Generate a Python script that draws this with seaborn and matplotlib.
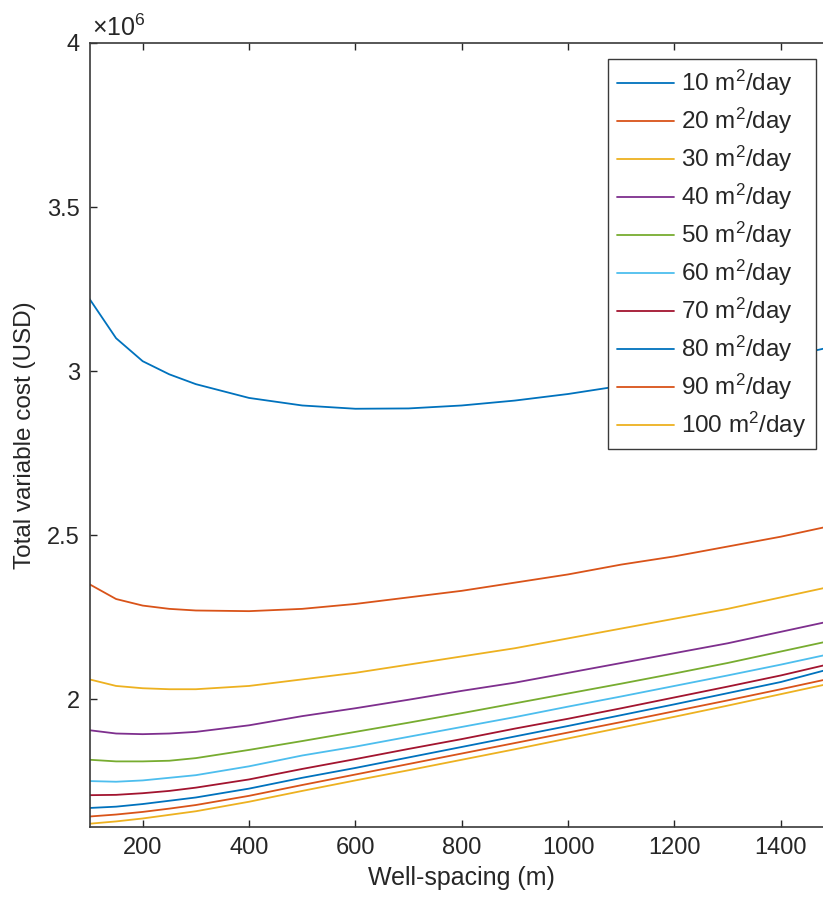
import numpy as np
import pandas as pd
import matplotlib
matplotlib.use("Agg")
import matplotlib.pyplot as plt
import seaborn as sns
from matplotlib.ticker import FuncFormatter

# well spacing (m)
spacing = [100, 150, 200, 250, 300, 400, 500, 600, 700, 800, 900, 1000, 1100, 1200, 1300, 1400, 1500]

# transmissivity labels (m2/day)
trans = [10, 20, 30, 40, 50, 60, 70, 80, 90, 100]

# total variable cost, in millions of USD
cost_10 = [3.22, 3.10, 3.03, 2.99, 2.96, 2.918, 2.895, 2.885, 2.886, 2.895, 2.91, 2.93, 2.955, 2.98, 3.01, 3.04, 3.075]
cost_20 = [2.35, 2.305, 2.285, 2.275, 2.27, 2.268, 2.275, 2.29, 2.31, 2.33, 2.355, 2.38, 2.41, 2.435, 2.465, 2.495, 2.53]
cost_30 = [2.06, 2.04, 2.033, 2.03, 2.03, 2.04, 2.06, 2.08, 2.105, 2.13, 2.155, 2.185, 2.215, 2.245, 2.275, 2.31, 2.345]
cost_40 = [1.905, 1.895, 1.893, 1.895, 1.90, 1.92, 1.948, 1.972, 1.998, 2.025, 2.05, 2.08, 2.11, 2.14, 2.17, 2.205, 2.24]
cost_50 = [1.815, 1.81, 1.81, 1.812, 1.82, 1.845, 1.872, 1.90, 1.928, 1.957, 1.987, 2.017, 2.047, 2.078, 2.11, 2.145, 2.18]
cost_60 = [1.75, 1.748, 1.752, 1.76, 1.768, 1.795, 1.828, 1.855, 1.885, 1.915, 1.945, 1.977, 2.008, 2.04, 2.072, 2.105, 2.14]
cost_70 = [1.707, 1.708, 1.713, 1.72, 1.73, 1.755, 1.787, 1.817, 1.848, 1.878, 1.91, 1.94, 1.972, 2.005, 2.038, 2.072, 2.11]
cost_80 = [1.668, 1.672, 1.68, 1.69, 1.70, 1.727, 1.76, 1.79, 1.822, 1.854, 1.886, 1.918, 1.951, 1.984, 2.018, 2.052, 2.095]
cost_90 = [1.642, 1.648, 1.656, 1.666, 1.677, 1.705, 1.738, 1.77, 1.802, 1.834, 1.866, 1.898, 1.93, 1.963, 1.996, 2.03, 2.065]
cost_100 = [1.62, 1.627, 1.636, 1.647, 1.658, 1.687, 1.72, 1.752, 1.783, 1.815, 1.847, 1.88, 1.913, 1.946, 1.98, 2.015, 2.05]

costs = [cost_10, cost_20, cost_30, cost_40, cost_50,
         cost_60, cost_70, cost_80, cost_90, cost_100]

# matlab default line colours
colors = ["#0072BD", "#D95319", "#EDB120", "#7E2F8E", "#77AC30",
          "#4DBEEE", "#A2142F", "#0072BD", "#D95319", "#EDB120"]

labels = [f"{t} m$^2$/day" for t in trans]

rows = []
for lab, c in zip(labels, costs):
    for s, v in zip(spacing, c):
        rows.append({"spacing": s, "cost": v * 1e6, "label": lab})
df = pd.DataFrame(rows)

sns.set_style("ticks")
plt.rcParams["font.family"] = ["Liberation Sans", "DejaVu Sans"]
plt.rcParams["mathtext.fontset"] = "custom"
plt.rcParams["mathtext.rm"] = "Liberation Sans"
plt.rcParams["mathtext.default"] = "regular"

text_col = "#262626"
fig = plt.figure(figsize=(8.23, 8.99), dpi=100)
# the right side of the axes runs past the picture edge, as in the reference
ax = fig.add_axes([89.5 / 823, 72 / 899, (834 - 89.5) / 823, (827 - 43) / 899])

sns.lineplot(data=df, x="spacing", y="cost", hue="label", hue_order=labels,
             palette=colors, linewidth=1.3, ax=ax, legend=False)

ax.set_xlim(100, 1500)
ax.set_ylim(1.61e6, 4e6)
ax.set_xticks([200, 400, 600, 800, 1000, 1200, 1400])
ax.set_yticks([2e6, 2.5e6, 3e6, 3.5e6, 4e6])
ax.yaxis.set_major_formatter(FuncFormatter(lambda v, p: f"{v / 1e6:g}"))
ax.tick_params(direction="in", length=5, width=1, colors=text_col,
               labelsize=17, top=True, right=True, pad=7)
for sp in ax.spines.values():
    sp.set_color("#3a3a3a")
    sp.set_linewidth(1.2)

ax.set_xlabel("Well-spacing (m)", fontsize=18, color=text_col, labelpad=5)
ax.set_ylabel("Total variable cost (USD)", fontsize=17.5, color=text_col, labelpad=8)
ax.text(0.003, 1.002, r"$\times 10^{6}$", transform=ax.transAxes,
        fontsize=18, color=text_col, ha="left", va="bottom")

handles = [plt.Line2D([], [], color=c, lw=1.3) for c in colors]
leg = ax.legend(handles, labels, loc="upper right",
                bbox_to_anchor=(816 / 823, 1 - 59 / 899),
                bbox_transform=fig.transFigure, borderaxespad=0,
                fontsize=17.5, frameon=True, fancybox=False,
                handlelength=2.35, handletextpad=0.3, borderpad=0.38,
                labelspacing=0.32)
leg.get_frame().set_edgecolor("#3a3a3a")
leg.get_frame().set_linewidth(1.0)
leg.get_frame().set_alpha(1)
for t in leg.get_texts():
    t.set_color(text_col)

plt.savefig("out.png", dpi=100, facecolor="white")
plt.close()
